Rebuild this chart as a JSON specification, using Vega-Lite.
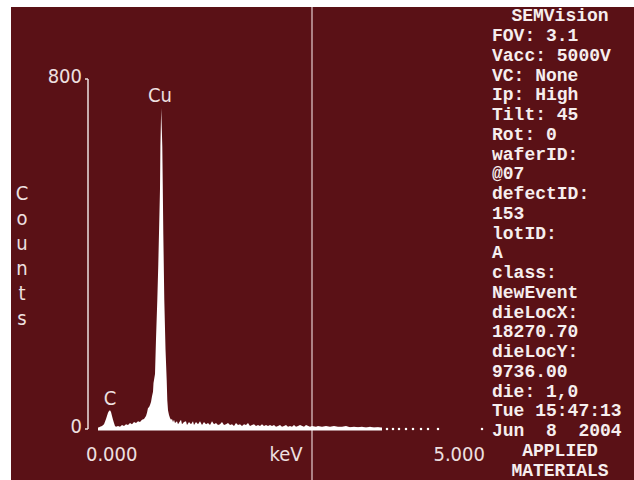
{
  "$schema": "https://vega.github.io/schema/vega-lite/v6.json",
  "width": 623,
  "height": 473,
  "autosize": {"type": "none"},
  "padding": {"left": 11, "top": 7, "right": 0, "bottom": 0},
  "background": "#ffffff",
  "config": {
    "view": {"stroke": null, "fill": "#5a1116"},
    "axis": {"disable": true}
  },
  "datasets": {
    "spectrum": [
      {"kev":0.125,"counts":2},{"kev":0.15,"counts":5},{"kev":0.175,"counts":7},{"kev":0.2,"counts":11},
      {"kev":0.225,"counts":23},{"kev":0.25,"counts":37},{"kev":0.2625,"counts":41},{"kev":0.275,"counts":43},
      {"kev":0.2875,"counts":39},{"kev":0.3,"counts":30},{"kev":0.3125,"counts":21},{"kev":0.325,"counts":14},
      {"kev":0.3375,"counts":7},{"kev":0.35,"counts":5},{"kev":0.375,"counts":7},{"kev":0.4,"counts":5},
      {"kev":0.425,"counts":9},{"kev":0.45,"counts":7},{"kev":0.475,"counts":11},{"kev":0.5,"counts":9},
      {"kev":0.525,"counts":14},{"kev":0.55,"counts":11},{"kev":0.575,"counts":16},{"kev":0.6,"counts":14},
      {"kev":0.625,"counts":18},{"kev":0.65,"counts":16},{"kev":0.675,"counts":21},{"kev":0.7,"counts":23},
      {"kev":0.725,"counts":30},{"kev":0.7375,"counts":37},{"kev":0.75,"counts":48},{"kev":0.7625,"counts":50},
      {"kev":0.775,"counts":55},{"kev":0.7875,"counts":62},{"kev":0.8,"counts":75},{"kev":0.8125,"counts":85},
      {"kev":0.81875,"counts":105},{"kev":0.8375,"counts":126},{"kev":0.85,"counts":206},{"kev":0.86625,"counts":295},
      {"kev":0.87875,"counts":377},{"kev":0.8875,"counts":448},{"kev":0.9,"counts":549},{"kev":0.905,"counts":645},
      {"kev":0.915,"counts":734},{"kev":0.92875,"counts":645},{"kev":0.935,"counts":549},{"kev":0.94125,"counts":448},
      {"kev":0.95375,"counts":295},{"kev":0.96875,"counts":183},{"kev":0.98375,"counts":112},{"kev":0.99125,"counts":66},
      {"kev":1.0,"counts":43},{"kev":1.0125,"counts":32},{"kev":1.025,"counts":25},{"kev":1.0375,"counts":21},
      {"kev":1.05,"counts":23},{"kev":1.0625,"counts":16},{"kev":1.075,"counts":21},{"kev":1.0875,"counts":14},
      {"kev":1.1125,"counts":18},{"kev":1.125,"counts":11},{"kev":1.15,"counts":18},{"kev":1.1625,"counts":21},
      {"kev":1.175,"counts":11},{"kev":1.2,"counts":16},{"kev":1.225,"counts":18},{"kev":1.2375,"counts":9},
      {"kev":1.2625,"counts":16},{"kev":1.2875,"counts":11},{"kev":1.3125,"counts":18},{"kev":1.325,"counts":9},
      {"kev":1.35,"counts":16},{"kev":1.375,"counts":11},{"kev":1.4,"counts":18},{"kev":1.425,"counts":9},
      {"kev":1.45,"counts":16},{"kev":1.475,"counts":11},{"kev":1.5,"counts":14},{"kev":1.525,"counts":9},
      {"kev":1.55,"counts":18},{"kev":1.575,"counts":11},{"kev":1.6,"counts":14},{"kev":1.625,"counts":9},
      {"kev":1.65,"counts":11},{"kev":1.675,"counts":16},{"kev":1.7,"counts":9},{"kev":1.725,"counts":11},
      {"kev":1.75,"counts":14},{"kev":1.775,"counts":9},{"kev":1.8,"counts":11},{"kev":1.825,"counts":7},
      {"kev":1.85,"counts":14},{"kev":1.875,"counts":9},{"kev":1.9,"counts":11},{"kev":1.925,"counts":7},
      {"kev":1.95,"counts":11},{"kev":1.975,"counts":9},{"kev":2.0,"counts":14},{"kev":2.025,"counts":7},
      {"kev":2.05,"counts":9},{"kev":2.075,"counts":11},{"kev":2.1,"counts":7},{"kev":2.125,"counts":9},
      {"kev":2.15,"counts":7},{"kev":2.175,"counts":11},{"kev":2.2,"counts":7},{"kev":2.225,"counts":9},
      {"kev":2.25,"counts":7},{"kev":2.275,"counts":9},{"kev":2.3,"counts":7},{"kev":2.325,"counts":9},
      {"kev":2.35,"counts":5},{"kev":2.375,"counts":7},{"kev":2.4,"counts":9},{"kev":2.425,"counts":5},
      {"kev":2.45,"counts":7},{"kev":2.475,"counts":9},{"kev":2.5,"counts":5},{"kev":2.525,"counts":7},
      {"kev":2.55,"counts":5},{"kev":2.575,"counts":9},{"kev":2.6,"counts":5},{"kev":2.625,"counts":7},
      {"kev":2.65,"counts":9},{"kev":2.7,"counts":5},{"kev":2.725,"counts":9},{"kev":2.775,"counts":5},
      {"kev":2.8,"counts":7},{"kev":2.85,"counts":5},{"kev":2.875,"counts":7},{"kev":2.925,"counts":5},
      {"kev":2.975,"counts":7},{"kev":3.025,"counts":5},{"kev":3.075,"counts":7},{"kev":3.125,"counts":5},
      {"kev":3.175,"counts":5},{"kev":3.225,"counts":7},{"kev":3.275,"counts":4},{"kev":3.325,"counts":5},
      {"kev":3.375,"counts":4},{"kev":3.425,"counts":5},{"kev":3.475,"counts":3},{"kev":3.525,"counts":5},
      {"kev":3.575,"counts":3},{"kev":3.625,"counts":4},{"kev":3.675,"counts":2}
    ],
    "dots": [
      {"kev":3.7375,"counts":0},{"kev":3.8125,"counts":0},{"kev":3.8875,"counts":0},{"kev":3.975,"counts":0},
      {"kev":4.0625,"counts":0},{"kev":4.1625,"counts":0},{"kev":4.25,"counts":0},{"kev":4.375,"counts":0},
      {"kev":4.925,"counts":0}
    ],
    "cursor": [{"kev": 2.8}],
    "axisline": [{"kev": 0, "from": 0, "to": 800}],
    "baseline": [{"from": 0.125, "to": 3.675, "counts": 0}],
    "yticks": [{"counts":0,"label":"0"},{"counts":800,"label":"800"}],
    "peaks": [{"element":"C","kev":0.275,"counts":55},{"element":"Cu","kev":0.9,"counts":747}],
    "xlabels": [{"label":"0.000","kev":0.296},{"label":"keV","kev":2.475},{"label":"5.000","kev":4.64}],
    "ytitle": [{"label":"C\no\nu\nn\nt\ns"}],
    "panel": [
      {"line":1,"text":"FOV: 3.1"},{"line":2,"text":"Vacc: 5000V"},{"line":3,"text":"VC: None"},
      {"line":4,"text":"Ip: High"},{"line":5,"text":"Tilt: 45"},{"line":6,"text":"Rot: 0"},
      {"line":7,"text":"waferID:"},{"line":8,"text":"@07"},{"line":9,"text":"defectID:"},
      {"line":10,"text":"153"},{"line":11,"text":"lotID:"},{"line":12,"text":"A"},
      {"line":13,"text":"class:"},{"line":14,"text":"NewEvent"},{"line":15,"text":"dieLocX:"},
      {"line":16,"text":"18270.70"},{"line":17,"text":"dieLocY:"},{"line":18,"text":"9736.00"},
      {"line":19,"text":"die: 1,0"},{"line":20,"text":"Tue 15:47:13"},{"line":21,"text":"Jun\u00a0\u00a08\u00a0\u00a02004"}
    ],
    "panelCentered": [
      {"line":0,"text":"SEMVision"},{"line":22,"text":"APPLIED"},{"line":23,"text":"MATERIALS"}
    ]
  },
  "resolve": {"scale": {"y": "independent"}},
  "layer": [
    {
      "layer": [
        {
          "data": {"name": "cursor"},
          "mark": {"type": "rule", "color": "#e6cfd0", "strokeWidth": 1.2},
          "encoding": {
            "x": {"field": "kev", "type": "quantitative", "scale": {"domain": [-0.9625, 6.825], "nice": false, "zero": false}}
          }
        },
        {
          "data": {"name": "spectrum"},
          "mark": {"type": "area", "color": "#ffffff", "opacity": 1},
          "encoding": {
            "x": {"field": "kev", "type": "quantitative", "scale": {"domain": [-0.9625, 6.825], "nice": false, "zero": false}},
            "y": {"field": "counts", "type": "quantitative", "scale": {"domain": [-116.57, 964.57], "nice": false, "zero": false}},
            "y2": {"datum": 0}
          }
        },
        {
          "data": {"name": "baseline"},
          "mark": {"type": "rule", "color": "#ffffff", "strokeWidth": 3},
          "encoding": {
            "x": {"field": "from", "type": "quantitative", "scale": {"domain": [-0.9625, 6.825], "nice": false, "zero": false}},
            "x2": {"field": "to"},
            "y": {"field": "counts", "type": "quantitative", "scale": {"domain": [-116.57, 964.57], "nice": false, "zero": false}}
          }
        },
        {
          "data": {"name": "dots"},
          "mark": {"type": "square", "color": "#ffffff", "size": 5, "opacity": 1},
          "encoding": {
            "x": {"field": "kev", "type": "quantitative", "scale": {"domain": [-0.9625, 6.825], "nice": false, "zero": false}},
            "y": {"field": "counts", "type": "quantitative", "scale": {"domain": [-116.57, 964.57], "nice": false, "zero": false}}
          }
        },
        {
          "data": {"name": "axisline"},
          "mark": {"type": "rule", "color": "#eee0e0", "strokeWidth": 1.5},
          "encoding": {
            "x": {"field": "kev", "type": "quantitative", "scale": {"domain": [-0.9625, 6.825], "nice": false, "zero": false}},
            "y": {"field": "from", "type": "quantitative", "scale": {"domain": [-116.57, 964.57], "nice": false, "zero": false}},
            "y2": {"field": "to"}
          }
        },
        {
          "data": {"name": "yticks"},
          "mark": {"type": "rule", "color": "#eee0e0", "strokeWidth": 1.5},
          "encoding": {
            "x": {"datum": -0.0375, "type": "quantitative", "scale": {"domain": [-0.9625, 6.825], "nice": false, "zero": false}},
            "x2": {"datum": 0},
            "y": {"field": "counts", "type": "quantitative", "scale": {"domain": [-116.57, 964.57], "nice": false, "zero": false}}
          }
        },
        {
          "data": {"name": "yticks"},
          "mark": {"type": "text", "color": "#eee0e0", "font": "Liberation Sans Narrow, DejaVu Sans Condensed, sans-serif", "fontSize": 20, "align": "right", "baseline": "alphabetic", "dy": 4},
          "encoding": {
            "x": {"datum": -0.075, "type": "quantitative", "scale": {"domain": [-0.9625, 6.825], "nice": false, "zero": false}},
            "y": {"field": "counts", "type": "quantitative", "scale": {"domain": [-116.57, 964.57], "nice": false, "zero": false}},
            "text": {"field": "label"}
          }
        },
        {
          "data": {"name": "peaks"},
          "mark": {"type": "text", "color": "#eee0e0", "font": "Liberation Sans Narrow, DejaVu Sans Condensed, sans-serif", "fontSize": 20, "align": "center", "baseline": "alphabetic"},
          "encoding": {
            "x": {"field": "kev", "type": "quantitative", "scale": {"domain": [-0.9625, 6.825], "nice": false, "zero": false}},
            "y": {"field": "counts", "type": "quantitative", "scale": {"domain": [-116.57, 964.57], "nice": false, "zero": false}},
            "text": {"field": "element"}
          }
        },
        {
          "data": {"name": "xlabels"},
          "mark": {"type": "text", "color": "#eee0e0", "font": "Liberation Sans Narrow, DejaVu Sans Condensed, sans-serif", "fontSize": 20, "align": "center", "baseline": "alphabetic"},
          "encoding": {
            "x": {"field": "kev", "type": "quantitative", "scale": {"domain": [-0.9625, 6.825], "nice": false, "zero": false}},
            "y": {"datum": -73, "type": "quantitative", "scale": {"domain": [-116.57, 964.57], "nice": false, "zero": false}},
            "text": {"field": "label"}
          }
        },
        {
          "data": {"name": "ytitle"},
          "mark": {"type": "text", "color": "#eee0e0", "font": "Liberation Sans Narrow, DejaVu Sans Condensed, sans-serif", "fontSize": 20, "align": "center", "baseline": "alphabetic", "lineBreak": "\n", "lineHeight": 25},
          "encoding": {
            "x": {"datum": -0.825, "type": "quantitative", "scale": {"domain": [-0.9625, 6.825], "nice": false, "zero": false}},
            "y": {"datum": 523, "type": "quantitative", "scale": {"domain": [-116.57, 964.57], "nice": false, "zero": false}},
            "text": {"field": "label"}
          }
        }
      ]
    },
    {
      "layer": [
        {
          "data": {"name": "panel"},
          "mark": {"type": "text", "color": "#f6eeee", "font": "Liberation Mono", "fontWeight": "bold", "fontSize": 18, "align": "left", "baseline": "middle"},
          "encoding": {
            "x": {"datum": 5.05, "type": "quantitative", "scale": {"domain": [-0.9625, 6.825], "nice": false, "zero": false}},
            "y": {"field": "line", "type": "ordinal", "scale": {"type": "point", "domain": [0,1,2,3,4,5,6,7,8,9,10,11,12,13,14,15,16,17,18,19,20,21,22,23], "padding": 0.48}},
            "text": {"field": "text"}
          }
        },
        {
          "data": {"name": "panelCentered"},
          "mark": {"type": "text", "color": "#f6eeee", "font": "Liberation Mono", "fontWeight": "bold", "fontSize": 18, "align": "center", "baseline": "middle"},
          "encoding": {
            "x": {"datum": 5.9, "type": "quantitative", "scale": {"domain": [-0.9625, 6.825], "nice": false, "zero": false}},
            "y": {"field": "line", "type": "ordinal", "scale": {"type": "point", "domain": [0,1,2,3,4,5,6,7,8,9,10,11,12,13,14,15,16,17,18,19,20,21,22,23], "padding": 0.48}},
            "text": {"field": "text"}
          }
        }
      ]
    }
  ]
}
